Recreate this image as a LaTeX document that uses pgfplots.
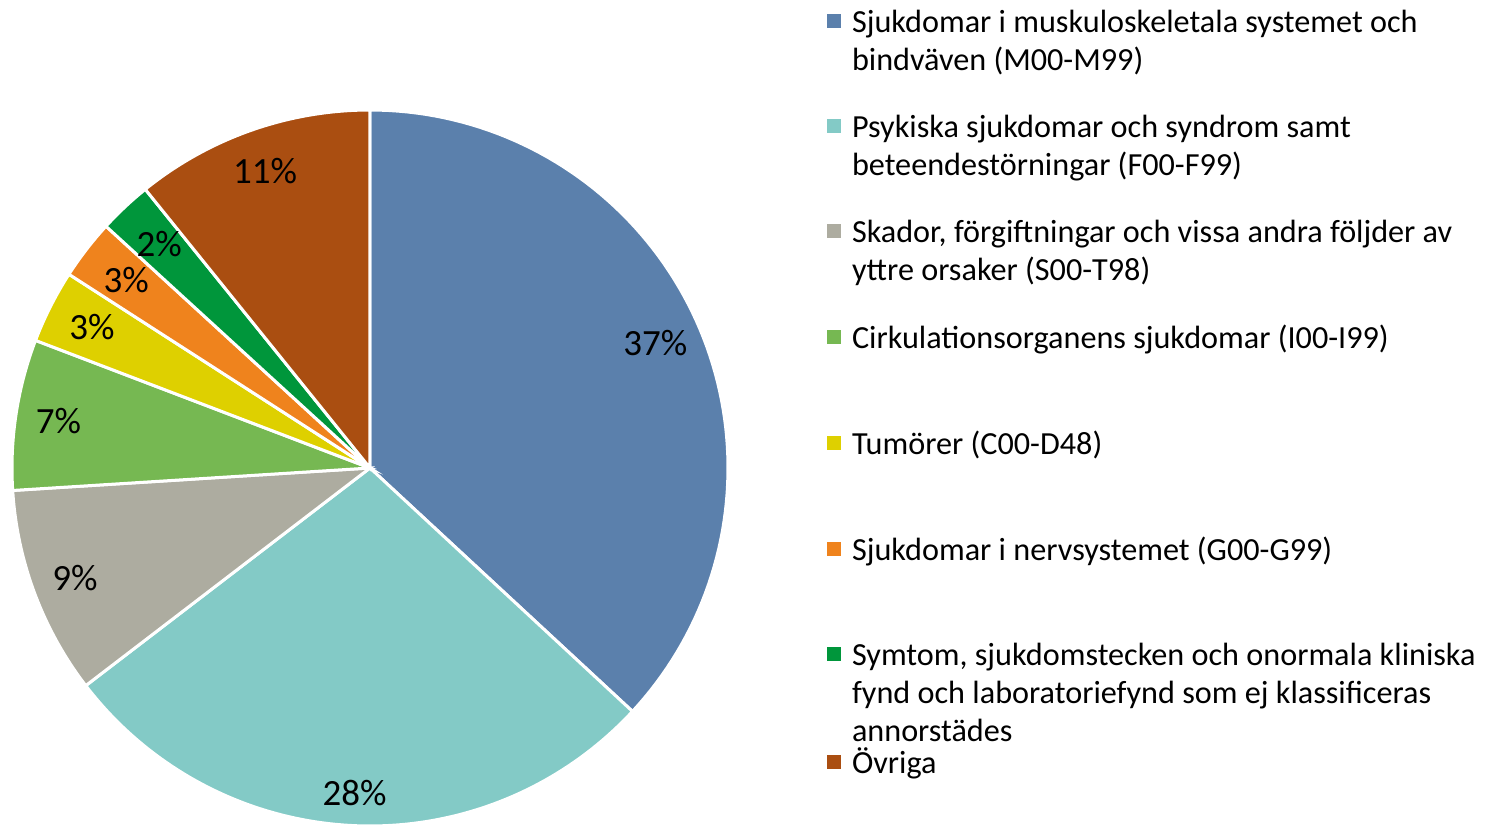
\documentclass[border=0pt]{standalone}
\usepackage{fontspec}
\setmainfont{Carlito}
\usepackage{pgfplots}
\pgfplotsset{compat=1.18}

\definecolor{cMusk}{RGB}{91,128,172}
\definecolor{cPsyk}{RGB}{131,202,198}
\definecolor{cSkad}{RGB}{173,172,160}
\definecolor{cCirk}{RGB}{118,184,82}
\definecolor{cTum}{RGB}{222,208,0}
\definecolor{cNerv}{RGB}{239,131,29}
\definecolor{cSymt}{RGB}{0,150,59}
\definecolor{cOvr}{RGB}{170,78,17}

% legend text: wrapped lines, first baseline is the cell baseline
\newcommand{\entry}[1]{\parbox[t]{340pt}{\raggedright #1}}
% percentage label at mid-angle (in percent of the full circle), #3 = radius
\newcommand{\pielabel}[3]{\node[font=\fontsize{18.5}{22}\selectfont] at (axis cs:{#3*cos(90-3.6*#1)},{#3*sin(90-3.6*#1)}) {#2};}

\begin{document}
\begin{tikzpicture}
\begin{axis}[
    at={(0,0)}, anchor=center,
    x=179pt, y=179pt,
    xmin=-1, xmax=1, ymin=-1, ymax=1,
    hide axis, clip=false,
    slice/.style={draw=white, line width=1.5pt, samples=90},
    legend style={
        at={(1.1383,1.1453)}, anchor=north west,
        draw=none, fill=none, inner sep=0pt, outer sep=0pt,
        row sep=0pt, column sep=3.5pt,
        font=\fontsize{16.1}{19}\selectfont,
        cells={anchor=base west, inner sep=0pt},
    },
    % the invisible box fixes every legend row to the same pitch
    legend image code/.code={
        \path[draw=none, fill=none] (0pt,-39.25pt) rectangle (7pt,12pt);
        \fill[#1, draw=none] (0pt,2.25pt) rectangle (7pt,9.25pt);
    },
]
% slices: domain = cumulative share in percent, clockwise from the top
\addplot[slice, fill=cMusk, domain=0:36.9] ({cos(90-3.6*x)},{sin(90-3.6*x)}) -- (axis cs:0,0) -- cycle;
\addlegendentry{\entry{Sjukdomar i muskuloskeletala systemet och\\bindväven (M00-M99)}}
\addplot[slice, fill=cPsyk, domain=36.9:64.6] ({cos(90-3.6*x)},{sin(90-3.6*x)}) -- (axis cs:0,0) -- cycle;
\addlegendentry{\entry{Psykiska sjukdomar och syndrom samt\\beteendestörningar (F00-F99)}}
\addplot[slice, fill=cSkad, domain=64.6:74.0] ({cos(90-3.6*x)},{sin(90-3.6*x)}) -- (axis cs:0,0) -- cycle;
\addlegendentry{\entry{Skador, förgiftningar och vissa andra följder av\\yttre orsaker (S00-T98)}}
\addplot[slice, fill=cCirk, domain=74.0:80.8] ({cos(90-3.6*x)},{sin(90-3.6*x)}) -- (axis cs:0,0) -- cycle;
\addlegendentry{\entry{Cirkulationsorganens sjukdomar (I00-I99)}}
\addplot[slice, fill=cTum, domain=80.8:84.1] ({cos(90-3.6*x)},{sin(90-3.6*x)}) -- (axis cs:0,0) -- cycle;
\addlegendentry{\entry{Tumörer (C00-D48)}}
\addplot[slice, fill=cNerv, domain=84.1:86.8] ({cos(90-3.6*x)},{sin(90-3.6*x)}) -- (axis cs:0,0) -- cycle;
\addlegendentry{\entry{Sjukdomar i nervsystemet (G00-G99)}}
\addplot[slice, fill=cSymt, domain=86.8:89.2] ({cos(90-3.6*x)},{sin(90-3.6*x)}) -- (axis cs:0,0) -- cycle;
\addlegendentry{\entry{Symtom, sjukdomstecken och onormala kliniska\\fynd och laboratoriefynd som ej klassificeras\\annorstädes}}
\addplot[slice, fill=cOvr, domain=89.2:100] ({cos(90-3.6*x)},{sin(90-3.6*x)}) -- (axis cs:0,0) -- cycle;
\addlegendentry{\entry{Övriga}}

\pielabel{18.45}{37\%}{0.87}
\pielabel{50.75}{28\%}{0.91}
\pielabel{69.3}{9\%}{0.88}
\pielabel{77.4}{7\%}{0.88}
\pielabel{82.45}{3\%}{0.87}
\pielabel{85.45}{3\%}{0.86}
\pielabel{88.0}{2\%}{0.86}
\pielabel{94.6}{11\%}{0.88}
\end{axis}
\pgfresetboundingbox
\path (-185pt,-178.5pt) rectangle (559pt,234pt);
\end{tikzpicture}
\end{document}
